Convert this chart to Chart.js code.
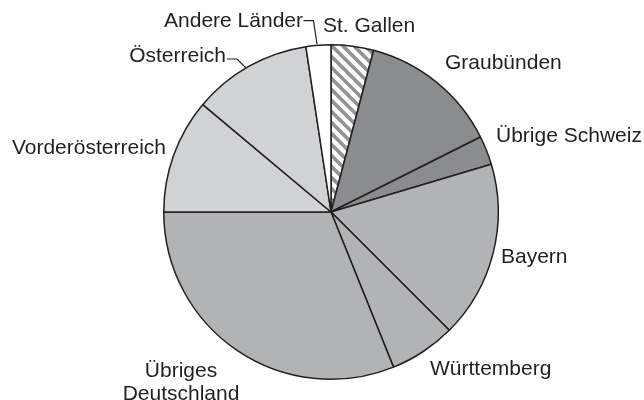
<!DOCTYPE html>
<html>
<head>
<meta charset="utf-8">
<script src="https://cdn.jsdelivr.net/npm/chart.js@4/dist/chart.umd.min.js"></script>
<style>
  html, body { margin: 0; padding: 0; background: #fff; }
  canvas { display: block; }
</style>
</head>
<body>
<canvas id="chart" width="644" height="400"></canvas>
<script>
// Herkunft (Anteile in %), im Uhrzeigersinn ab 12 Uhr
const regions = [
  'St. Gallen', 'Graubünden', 'Übrige Schweiz', 'Bayern', 'Württemberg',
  'Übriges Deutschland', 'Vorderösterreich', 'Österreich', 'Andere Länder'
]
const shares = [4.1, 13.5, 2.8, 17.1, 6.4, 31.1, 11.1, 11.5, 2.4]

const ink = '#231f20'
const font = '21px "Liberation Sans", Arial, sans-serif'

// diagonal hatch for St. Gallen
function hatch () {
  const p = 11
  const c = document.createElement('canvas')
  c.width = p
  c.height = p
  const g = c.getContext('2d')
  g.fillStyle = '#fff'
  g.fillRect(0, 0, p, p)
  g.strokeStyle = '#929395'
  g.lineWidth = 3.6
  g.beginPath()
  g.moveTo(0, 0); g.lineTo(p, p)
  g.moveTo(-p / 2, p / 2); g.lineTo(p / 2, p * 1.5)
  g.moveTo(p / 2, -p / 2); g.lineTo(p * 1.5, p / 2)
  g.stroke()
  return g.createPattern(c, 'repeat')
}

const fills = [
  hatch(), '#8b8c8e', '#8b8c8e', '#b2b3b5', '#b2b3b5',
  '#b2b3b5', '#d1d2d4', '#d1d2d4', '#ffffff'
]

// label placement relative to pie centre: [dx, dy (baseline), align]
const labelPos = [
  [-8, -180, 'left'],
  [114, -143, 'left'],
  [165, -70, 'left'],
  [170, 51, 'left'],
  [99, 163, 'left'],
  [-150, 165, 'center'],
  [-165, -58, 'right'],
  [-105, -150, 'right'],
  [-28, -185, 'right']
]
const labelLines = ['St. Gallen', 'Graubünden', 'Übrige Schweiz', 'Bayern', 'Württemberg',
  ['Übriges', 'Deutschland'], 'Vorderösterreich', 'Österreich', 'Andere Länder']

// leader lines relative to pie centre
const leaders = [
  [[-104, -153], [-94, -153], [-85, -144]],
  [[-27.5, -191.3], [-17.5, -191.3], [-14, -168]]
]

const labelPlugin = {
  id: 'labels',
  afterDraw (chart) {
    const arc = chart.getDatasetMeta(0).data[0]
    const cx = arc.x
    const cy = arc.y
    const ctx = chart.ctx
    ctx.save()
    ctx.fillStyle = ink
    ctx.font = font
    ctx.textBaseline = 'alphabetic'
    labelLines.forEach((txt, i) => {
      const [dx, dy, align] = labelPos[i]
      ctx.textAlign = align
      const lines = Array.isArray(txt) ? txt : [txt]
      lines.forEach((t, j) => ctx.fillText(t, cx + dx, cy + dy + j * 23))
    })
    ctx.strokeStyle = ink
    ctx.lineWidth = 1.2
    leaders.forEach(pts => {
      ctx.beginPath()
      pts.forEach(([x, y], k) => k ? ctx.lineTo(cx + x, cy + y) : ctx.moveTo(cx + x, cy + y))
      ctx.stroke()
    })
    ctx.restore()
  }
}

new Chart(document.getElementById('chart'), {
  type: 'pie',
  data: {
    labels: regions,
    datasets: [{
      data: shares,
      backgroundColor: fills,
      borderColor: ink,
      borderWidth: 1.5,
      borderAlign: 'center'
    }]
  },
  options: {
    responsive: false,
    animation: false,
    layout: { padding: { left: 163, right: 145, top: 44, bottom: 20 } },
    plugins: {
      legend: { display: false },
      tooltip: { enabled: false }
    }
  },
  plugins: [labelPlugin]
})
</script>
</body>
</html>
